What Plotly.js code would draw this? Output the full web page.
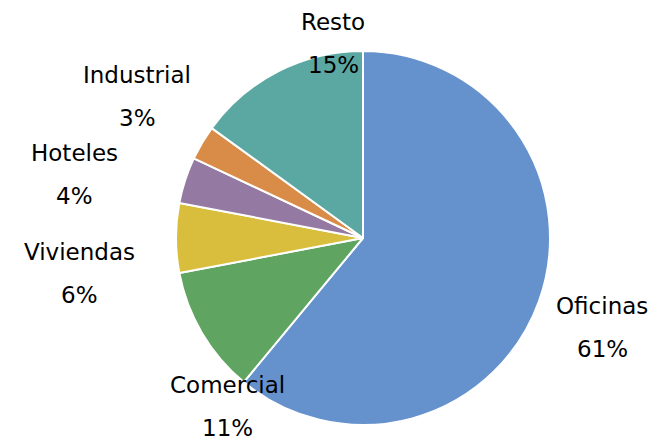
<!DOCTYPE html>
<html>
<head>
<meta charset="utf-8">
<script src="https://cdn.plot.ly/plotly-3.0.1.min.js"></script>
<style>
html,body{margin:0;padding:0;background:#fff;}
#chart{width:657px;height:442px;}
</style>
</head>
<body>
<div id="chart"></div>
<script>
// Data
var categories = ["Oficinas", "Comercial", "Viviendas", "Hoteles", "Industrial", "Resto"];
var shares = [61, 11, 6, 4, 3, 15];
var colors = ["#6592CD", "#5FA460", "#D8BE3C", "#9479A2", "#D88C48", "#5BA7A2"];

// Label placement (pixel centres of the name line; percent line sits below)
var labelPos = [[602, 306], [227, 385], [79, 252], [74, 153], [137, 75], [333, 22]];
var lineGap = 43;

var W = 657, H = 442;
var total = shares.reduce(function(a, b){ return a + b; }, 0);

var annotations = [];
var font = {family: "DejaVu Sans, Verdana, sans-serif", size: 23, color: "#000"};
categories.forEach(function(c, i){
  var px = labelPos[i][0], py = labelPos[i][1];
  annotations.push({text: c, x: px / W, y: 1 - py / H, xref: "paper", yref: "paper",
    showarrow: false, xanchor: "center", yanchor: "middle", font: font});
  annotations.push({text: Math.round(shares[i] / total * 100) + "%", x: px / W, y: 1 - (py + lineGap) / H,
    xref: "paper", yref: "paper", showarrow: false, xanchor: "center", yanchor: "middle", font: font});
});

var trace = {
  type: "pie",
  labels: categories,
  values: shares,
  sort: false,
  direction: "clockwise",
  rotation: 0,
  textinfo: "none",
  hoverinfo: "label+percent",
  marker: {colors: colors, line: {color: "#ffffff", width: 2}},
  domain: {x: [175 / W, 551 / W], y: [1 - 425 / H, 1 - 51 / H]}
};

var layout = {
  width: W, height: H,
  margin: {l: 0, r: 0, t: 0, b: 0},
  showlegend: false,
  paper_bgcolor: "#ffffff",
  annotations: annotations
};

Plotly.newPlot("chart", [trace], layout, {displayModeBar: false, staticPlot: true});
</script>
</body>
</html>
